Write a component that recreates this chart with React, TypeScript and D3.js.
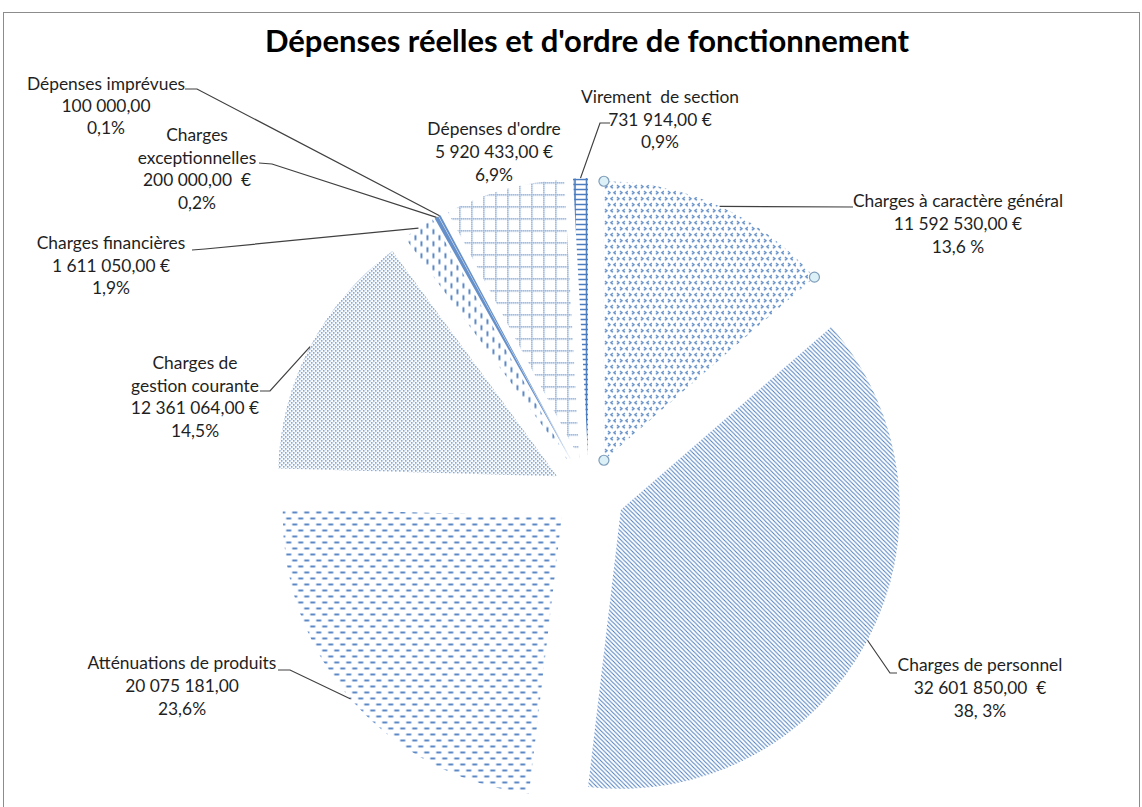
import * as d3 from 'd3';

// chart data
const categories = [
  'Charges à caractère général',
  'Charges de personnel',
  'Atténuations de produits',
  'Charges de gestion courante',
  'Charges financières',
  'Charges exceptionnelles',
  'Dépenses imprévues',
  "Dépenses d'ordre",
  'Virement de section',
];
const values = [11592530, 32601850, 20075181, 12361064, 1611050, 200000, 100000, 5920433, 731914];
const labelLines = [
  ['Charges à caractère général', '11 592 530,00 €', '13,6 %'],
  ['Charges de personnel', '32 601 850,00  €', '38, 3%'],
  ['Atténuations de produits', '20 075 181,00', '23,6%'],
  ['Charges de', 'gestion courante', '12 361 064,00 €', '14,5%'],
  ['Charges financières', '1 611 050,00 €', '1,9%'],
  ['Charges', 'exceptionnelles', '200 000,00  €', '0,2%'],
  ['Dépenses imprévues', '100 000,00', '0,1%'],
  ["Dépenses d'ordre", '5 920 433,00 €', '6,9%'],
  ['Virement  de section', '731 914,00 €', '0,9%'],
];
const patternNames = ['divot', 'diag', 'hdash', 'dots', 'vdash', 'solid', 'solid', 'grid', 'brick'];
const title = "Dépenses réelles et d'ordre de fonctionnement";

// label placement (center x, first line y, line gap, leader points after the slice anchor)
const labelLayout = [
  { x: 958, y: 201, gap: 23, leader: [[853, 207]] },
  { x: 980, y: 665, gap: 23, leader: [[890, 673], [897, 673]] },
  { x: 182, y: 663, gap: 23, leader: [[290, 670], [278, 670]] },
  { x: 195, y: 363, gap: 22.5, leader: [[270, 391], [260, 391]] },
  { x: 111, y: 243, gap: 22.5, leader: [[205, 249], [192, 250]] },
  { x: 197, y: 135, gap: 22.7, leader: [[272, 164], [259, 163]] },
  { x: 106, y: 84, gap: 22, leader: [[197, 89], [185, 89]] },
  { x: 494, y: 129, gap: 23, leader: [] },
  { x: 660, y: 97, gap: 22.5, leader: [[600, 123], [610, 123]] },
];

const BLUE = '#4a7cbf';
const FONT = 'Lato, "Open Sans", sans-serif';

const App = () => {
  const cx = 589;
  const cy = 493;
  const radius = 279;
  const explode = 36;

  const pie = d3.pie<number>().sort(null).value((d) => d);
  const arcs = pie(values);
  const arc = d3.arc<d3.PieArcDatum<number>>().innerRadius(0).outerRadius(radius);
  const fill = d3.scaleOrdinal<string, string>().domain(categories).range(
    patternNames.map((p) => (p === 'solid' ? BLUE : `url(#p-${p})`))
  );

  const offset = (d) => {
    const m = (d.startAngle + d.endAngle) / 2;
    return [explode * Math.sin(m), -explode * Math.cos(m)];
  };
  const outerPoint = (d, a) => {
    const [ox, oy] = offset(d);
    return [cx + ox + radius * Math.sin(a), cy + oy - radius * Math.cos(a)];
  };

  const sel = arcs[0];
  const [sx, sy] = offset(sel);
  const handles = [
    [cx + sx, cy + sy],
    outerPoint(sel, sel.startAngle),
    outerPoint(sel, sel.endAngle),
  ];

  const line = d3.line();

  return (
    <svg width={1142} height={807} style={{ position: 'absolute', left: 0, top: 0, background: '#fff' }}>
      <defs>
        <pattern id="p-divot" width={12} height={12} patternUnits="userSpaceOnUse">
          <path d="M1,1 L3,2.5 L1,4 M9,1 L7,2.5 L9,4 M4,7 L6,8.5 L4,10 M12,7 L10,8.5 L12,10" fill="none" stroke={BLUE} strokeWidth={1.4} />
        </pattern>
        <pattern id="p-diag" width={4.3} height={4.3} patternUnits="userSpaceOnUse">
          <path d="M0,0 L4.3,4.3 M-1,3.3 L1,5.3 M3.3,-1 L5.3,1" stroke={BLUE} strokeWidth={1} />
        </pattern>
        <pattern id="p-hdash" width={12} height={12} patternUnits="userSpaceOnUse">
          <rect x={0.5} y={1} width={5} height={1.8} fill={BLUE} />
          <rect x={6.5} y={7} width={5} height={1.8} fill={BLUE} />
        </pattern>
        <pattern id="p-dots" width={4} height={4} patternUnits="userSpaceOnUse">
          <rect x={0} y={0} width={1.4} height={1.4} fill={BLUE} />
          <rect x={2} y={2} width={1.4} height={1.4} fill={BLUE} />
        </pattern>
        <pattern id="p-vdash" width={12} height={12} patternUnits="userSpaceOnUse">
          <rect x={1} y={0.5} width={1.8} height={5} fill={BLUE} />
          <rect x={7} y={6.5} width={1.8} height={5} fill={BLUE} />
        </pattern>
        <pattern id="p-grid" width={12} height={12} patternUnits="userSpaceOnUse">
          {d3.range(6).map((i) => (
            <g key={i}>
              <rect x={i * 2} y={0} width={1.2} height={1.2} fill={BLUE} />
              <rect x={0} y={i * 2} width={1.2} height={1.2} fill={BLUE} />
            </g>
          ))}
        </pattern>
        <pattern id="p-brick" width={14} height={5} patternUnits="userSpaceOnUse">
          <path d="M1,0 L1,5 M12.5,0 L12.5,5 M0,2.5 L14,2.5" stroke={BLUE} strokeWidth={1.6} fill="none" />
        </pattern>
      </defs>

      <rect x={3.5} y={12.5} width={1136} height={800} fill="none" stroke="#8c8c8c" strokeWidth={1} />

      <text x={587} y={52} textAnchor="middle" fontFamily={FONT} fontWeight="bold" fontSize={31} fill="#000">
        {title}
      </text>

      <g>
        {arcs.map((d, i) => {
          const [ox, oy] = offset(d);
          return (
            <path
              key={categories[i]}
              d={arc(d) || ''}
              transform={`translate(${cx + ox},${cy + oy})`}
              fill={fill(categories[i])}
              opacity={patternNames[i] === 'solid' ? 0.85 : 1}
            />
          );
        })}
      </g>

      <g fill="none" stroke="#404040" strokeWidth={1.2}>
        {arcs.map((d, i) => {
          const lay = labelLayout[i];
          if (!lay.leader.length) return null;
          const m = (d.startAngle + d.endAngle) / 2;
          const pts = [outerPoint(d, m), ...lay.leader] as [number, number][];
          return <path key={i} d={line(pts) || ''} />;
        })}
      </g>

      <g fontFamily={FONT} fontSize={17.4} fill="#1f1f1f" textAnchor="middle">
        {labelLines.map((lines, i) =>
          lines.map((t, j) => (
            <text
              key={`${i}-${j}`}
              x={labelLayout[i].x}
              y={labelLayout[i].y + j * labelLayout[i].gap}
              dy="0.35em"
              style={{ whiteSpace: 'pre' }}
            >
              {t}
            </text>
          ))
        )}
      </g>

      {handles.map(([hx, hy], i) => (
        <circle key={i} cx={hx} cy={hy} r={5} fill="#dcf0f8" stroke="#7f9db9" strokeWidth={1.2} />
      ))}
    </svg>
  );
};

export default App;
